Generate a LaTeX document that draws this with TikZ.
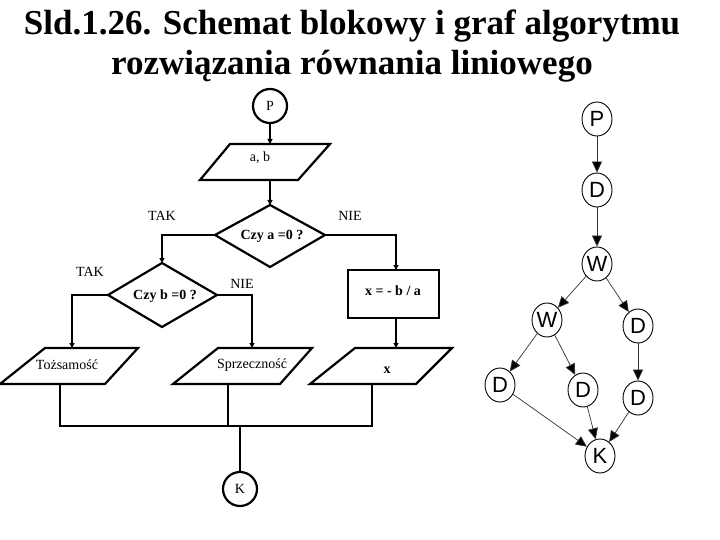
\documentclass[tikz,border=0pt]{standalone}
\usepackage{fontspec}
\setmainfont{Liberation Serif}
\newfontfamily\gsans{Liberation Sans}
\usetikzlibrary{shapes.geometric,arrows.meta}
\begin{document}
\begin{tikzpicture}[x=1pt,y=-1pt,
  shp/.style={draw,line width=2.2pt},
  con/.style={line width=1.2pt},
  arr/.style={con,-{Triangle[length=5pt,width=5pt]}},
  txt/.style={font=\fontsize{14}{16}\selectfont,inner sep=0pt},
  btxt/.style={font=\bfseries\fontsize{14}{16}\selectfont,inner sep=0pt},
  gn/.style={draw,ellipse,minimum width=30pt,minimum height=34pt,inner sep=0pt,line width=0.9pt,font=\gsans\fontsize{22}{24}\selectfont},
  ga/.style={line width=0.7pt,draw=black!80,-{Triangle[length=11pt,width=10pt,fill=black]}}]
\useasboundingbox (0,0) rectangle (720,540);
\node[font=\bfseries\fontsize{35}{40}\selectfont,align=center] (title) at (352,46) {Sld.1.26. Schemat blokowy i graf algorytmu\\rozwiązania równania liniowego};
% flowchart
\node[shp,circle,minimum size=34pt,inner sep=0pt,txt] (P) at (270,106) {P};
\draw[shp] (230,144) -- (330,144) -- (298,180) -- (200,180) -- cycle;
\node[txt] (ab) at (260,158) {a, b};
\coordinate (abt) at (270,144); \coordinate (abb) at (270,180);
\draw[shp] (270,205) -- (325,235) -- (270,267) -- (215,235) -- cycle;
\node[btxt] (d1) at (272,236) {Czy a =0 ?};
\coordinate (d1t) at (270,205); \coordinate (d1l) at (215,235); \coordinate (d1r) at (325,235);
\draw[shp] (162,263) -- (217,295) -- (162,327) -- (108,295) -- cycle;
\node[btxt] (d2) at (165,296) {Czy b =0 ?};
\coordinate (d2t) at (162,263); \coordinate (d2l) at (108,295); \coordinate (d2r) at (217,295);
\node[txt] (tak1) at (162,216) {TAK};
\node[txt] (nie1) at (350,216) {NIE};
\node[txt] (tak2) at (90,272) {TAK};
\node[txt] (nie2) at (242,284) {NIE};
\draw[shp] (348,270) rectangle (439,318);
\node[btxt] (calc) at (393,291) {x = - b / a};
\coordinate (ct) at (396,270); \coordinate (cb) at (396,318);
\draw[shp] (138,348) -- (45,348) -- (0,384) -- (105,384) -- cycle;
\node[txt] (t) at (67,365) {Tożsamość};
\draw[shp] (312,348) -- (218,348) -- (173,384) -- (280,384) -- cycle;
\node[txt] (s) at (252,365) {Sprzeczność};
\draw[shp] (452,348) -- (355,348) -- (310,384) -- (416,384) -- cycle;
\node[btxt] (xo) at (387,370) {x};
\node[shp,circle,minimum size=34pt,inner sep=0pt,txt] (K) at (240,489) {K};
\draw[arr] (P) -- (abt);
\draw[arr] (abb) -- (d1t);
\draw[arr] (d1l) -| (d2t);
\draw[arr] (d1r) -| (ct);
\draw[arr] (cb) -- (396,348);
\draw[arr] (d2l) -| (72,348);
\draw[arr] (d2r) -| (252,348);
\draw[con] (60,384) |- (372,426) -- (372,384);
\draw[con] (228,384) -- (228,426);
\draw[con] (240,426) -- (K);
% graph
\node[gn] (gP) at (597,119) {P};
\node[gn] (gD1) at (597,190) {D};
\node[gn] (gW1) at (597,264) {W};
\node[gn] (gW2) at (547,320) {W};
\node[gn] (gD2) at (638,326) {D};
\node[gn] (gD3) at (500,385) {D};
\node[gn] (gD4) at (583,390) {D};
\node[gn] (gD5) at (638,398) {D};
\node[gn] (gK) at (600,456) {K};
\draw[ga] (gP) -- (gD1);
\draw[ga] (gD1) -- (gW1);
\draw[ga] (gW1) -- (gW2);
\draw[ga] (gW1) -- (gD2);
\draw[ga] (gW2) -- (gD3);
\draw[ga] (gW2) -- (gD4);
\draw[ga] (gD2) -- (gD5);
\draw[ga] (gD3) -- (gK);
\draw[ga] (gD4) -- (gK);
\draw[ga] (gD5) -- (gK);
\end{tikzpicture}
\end{document}
